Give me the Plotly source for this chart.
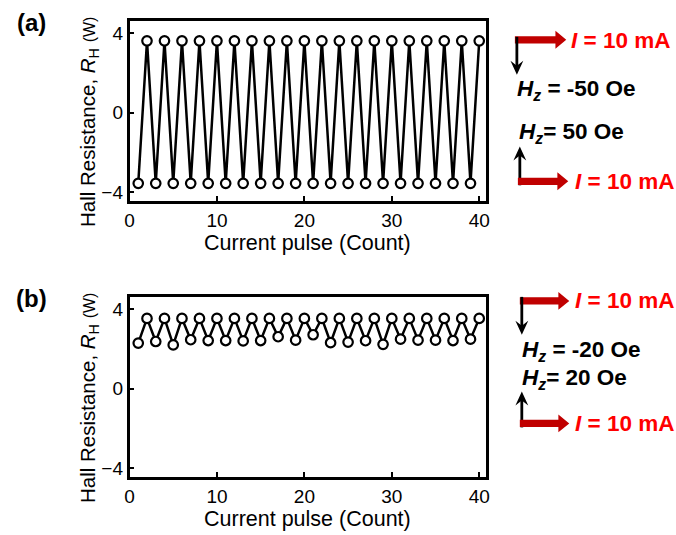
import plotly.graph_objects as go

# ---- data -------------------------------------------------------------
pulse = list(range(1, 41))

# Hall resistance (Ohm), Hz = -50 / +50 Oe
rh_a = [-3.55, 3.6, -3.55, 3.6, -3.55, 3.6, -3.55, 3.6, -3.55, 3.6,
        -3.55, 3.6, -3.55, 3.6, -3.55, 3.6, -3.55, 3.6, -3.55, 3.6,
        -3.55, 3.6, -3.55, 3.6, -3.55, 3.6, -3.55, 3.6, -3.55, 3.6,
        -3.55, 3.6, -3.55, 3.6, -3.55, 3.6, -3.55, 3.6, -3.55, 3.6]

# Hall resistance (Ohm), Hz = -20 / +20 Oe
rh_b = [2.28, 3.52, 2.36, 3.52, 2.19, 3.52, 2.45, 3.52, 2.41, 3.52,
        2.41, 3.52, 2.39, 3.52, 2.41, 3.52, 2.60, 3.52, 2.43, 3.52,
        2.70, 3.52, 2.30, 3.52, 2.33, 3.52, 2.40, 3.52, 2.22, 3.52,
        2.48, 3.52, 2.43, 3.52, 2.43, 3.52, 2.41, 3.52, 2.48, 3.52]

x_ticks = [0, 10, 20, 30, 40]
y_ticks = [-4, 0, 4]

W, H = 676, 535
FONT = "Liberation Sans, Arial, sans-serif"
RED = "#FF0000"
DARKRED = "#C00000"


def px(x):
    return x / W


def py(y):
    return 1 - y / H


fig = go.Figure()

line_style = dict(color="black", width=2.5)
marker_style = dict(symbol="circle", size=9.5, color="white",
                    line=dict(color="black", width=2.2))

fig.add_trace(go.Scatter(x=pulse, y=rh_a, mode="lines+markers",
                         line=line_style, marker=marker_style,
                         xaxis="x", yaxis="y", showlegend=False))
fig.add_trace(go.Scatter(x=pulse, y=rh_b, mode="lines+markers",
                         line=line_style, marker=marker_style,
                         xaxis="x2", yaxis="y2", showlegend=False))

axis_common = dict(
    showgrid=False, zeroline=False, showline=True, mirror=True,
    linecolor="black", linewidth=2.5, ticks="inside", ticklen=5,
    tickwidth=2, tickcolor="black",
    tickfont=dict(family=FONT, size=19, color="black"),
)

panel_a = (21, 202)   # top/bottom pixel rows of the plotting areas
panel_b = (298, 479)
x_px = (126, 487)

fig.update_layout(
    width=W, height=H,
    margin=dict(l=0, r=0, t=0, b=0),
    paper_bgcolor="white", plot_bgcolor="white",
    xaxis=dict(axis_common, domain=[px(x_px[0]), px(x_px[1])],
               range=[0, 40.8], tickvals=x_ticks, anchor="y"),
    yaxis=dict(axis_common, domain=[py(panel_a[1]), py(panel_a[0])],
               range=[-4.45, 4.6], tickvals=y_ticks, anchor="x"),
    xaxis2=dict(axis_common, domain=[px(x_px[0]), px(x_px[1])],
                range=[0, 40.8], tickvals=x_ticks, anchor="y2"),
    yaxis2=dict(axis_common, domain=[py(panel_b[1]), py(panel_b[0])],
                range=[-4.45, 4.6], tickvals=y_ticks, anchor="x2"),
)

annotations = []
shapes = []


def text(x, y, s, size=20, color="black", angle=0, xanchor="center"):
    annotations.append(dict(
        x=px(x), y=py(y), xref="paper", yref="paper", text=s,
        showarrow=False, textangle=angle, xanchor=xanchor, yanchor="middle",
        font=dict(family=FONT, size=size, color=color)))


y_title = ("Hall Resistance, <i>R</i><sub>H</sub> "
           "<span style='font-size:16px'>(W)</span>")
x_title = "Current pulse (Count)"

for (top, bot), tag in ((panel_a, "(a)"), (panel_b, "(b)")):
    text(85, (top + bot) / 2 + 11, y_title, size=20.5, angle=-90)
    text(306, bot + 42, x_title, size=21.5)
    text(27, top + 2, "<b>%s</b>" % tag, size=24)


def red_arrow(x0, x1, yc):
    # thick horizontal current arrow
    t, hh, hl = 3.6, 9, 11
    pts = [(x0, yc - t), (x1 - hl, yc - t), (x1 - hl, yc - hh), (x1, yc),
           (x1 - hl, yc + hh), (x1 - hl, yc + t), (x0, yc + t)]
    path = "M " + " L ".join("%.4f,%.4f" % (px(a), py(b)) for a, b in pts) + " Z"
    shapes.append(dict(type="path", path=path, xref="paper", yref="paper",
                       fillcolor=DARKRED, line=dict(width=0)))


def field_arrow(x, y0, y1):
    # thin vertical field arrow from y0 to tip y1
    d = 1 if y1 > y0 else -1
    hl, hw = 14, 6.5
    shapes.append(dict(type="line", xref="paper", yref="paper",
                       x0=px(x), x1=px(x), y0=py(y0), y1=py(y1 - d * hl * 0.6),
                       line=dict(color="black", width=2.8)))
    pts = [(x, y1), (x - hw, y1 - d * hl), (x, y1 - d * hl * 0.65),
           (x + hw, y1 - d * hl)]
    path = "M " + " L ".join("%.4f,%.4f" % (px(a), py(b)) for a, b in pts) + " Z"
    shapes.append(dict(type="path", path=path, xref="paper", yref="paper",
                       fillcolor="black", line=dict(width=0)))


cur_label = "<b><i>I</i> = 10 mA</b>"
LS = 22.5

# panel (a) legend: Hz = -50 / +50 Oe
red_arrow(516, 568, 40)
field_arrow(518, 37, 75)
text(571, 41, cur_label, size=LS, color=RED, xanchor="left")
text(516, 90, "<b><i>H</i><sub><i>z</i></sub> = -50 Oe</b>", size=LS, xanchor="left")
text(518, 134, "<b><i>H</i><sub><i>z</i></sub>= 50 Oe</b>", size=LS, xanchor="left")
field_arrow(521, 186, 147)
red_arrow(519, 570, 182)
text(575, 182, cur_label, size=LS, color=RED, xanchor="left")

# panel (b) legend: Hz = -20 / +20 Oe
red_arrow(521, 571, 302)
field_arrow(523, 298, 336)
text(575, 302, cur_label, size=LS, color=RED, xanchor="left")
text(521, 352, "<b><i>H</i><sub><i>z</i></sub> = -20 Oe</b>", size=LS, xanchor="left")
text(521, 380, "<b><i>H</i><sub><i>z</i></sub>= 20 Oe</b>", size=LS, xanchor="left")
field_arrow(523, 429, 393)
red_arrow(521, 571, 425)
text(575, 425, cur_label, size=LS, color=RED, xanchor="left")

fig.update_layout(annotations=annotations, shapes=shapes)

fig.write_html("out.html")
